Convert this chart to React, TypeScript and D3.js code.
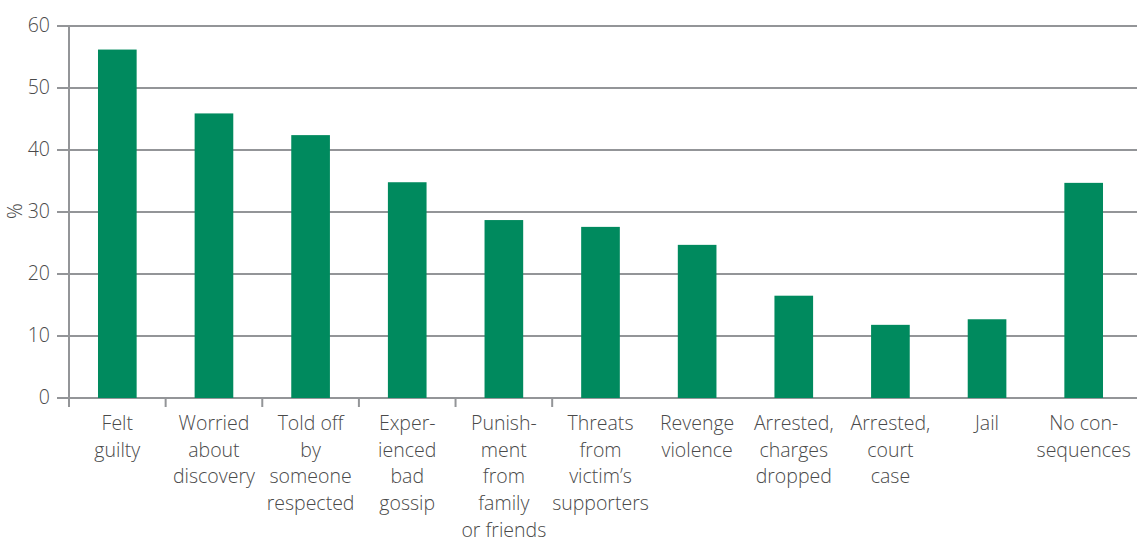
import React from "react";
import * as d3 from "d3";

const categories: string[][] = [
  ["Felt", "guilty"],
  ["Worried", "about", "discovery"],
  ["Told off", "by", "someone", "respected"],
  ["Exper-", "ienced", "bad", "gossip"],
  ["Punish-", "ment", "from", "family", "or friends"],
  ["Threats", "from", "victim’s", "supporters"],
  ["Revenge", "violence"],
  ["Arrested,", "charges", "dropped"],
  ["Arrested,", "court", "case"],
  ["Jail"],
  ["No con-", "sequences"],
];
const values: number[] = [56.2, 45.9, 42.4, 34.8, 28.7, 27.6, 24.7, 16.5, 11.8, 12.7, 34.7];
const yTicks: number[] = [0, 10, 20, 30, 40, 50, 60];
const yLabel = "%";

const W = 1142;
const H = 538;
const left = 69;
const right = 1132;
const top = 26;
const bottom = 398;
const gridRight = 1137;
const barColor = "#008a5e";
const gridColor = "#939598";
const textColor = "#4a4a4a";
const font = "'Open Sans', 'Noto Sans', sans-serif";
const fs = 19.5;

export default function App() {
  const x = d3
    .scaleBand<number>()
    .domain(d3.range(categories.length))
    .range([left, right])
    .paddingInner(0.6)
    .paddingOuter(0.3);
  const xStep = d3.scaleBand<number>().domain(d3.range(categories.length)).range([left, right]);
  const y = d3.scaleLinear().domain([0, 60]).range([bottom, top]);
  const tickBoundaries = d3.range(1, 6).map((i) => xStep(i)!);

  return (
    <div style={{ position: "absolute", left: 0, top: 0 }}>
      <svg width={W} height={H} style={{ display: "block" }}>
        <rect width={W} height={H} fill="#fff" />
        {yTicks.map((t) => (
          <g key={t}>
            <line x1={57} x2={gridRight} y1={y(t)} y2={y(t)} stroke={gridColor} strokeWidth={2} />
            <text
              x={50}
              y={y(t) - 1}
              dy="0.35em"
              textAnchor="end"
              fontFamily={font}
              fontSize={fs}
              fontWeight={300}
              fill={textColor}
            >
              {t}
            </text>
          </g>
        ))}
        <line x1={left} x2={left} y1={top} y2={bottom + 9} stroke={gridColor} strokeWidth={2} />
        {tickBoundaries.map((bx, i) => (
          <line key={i} x1={bx} x2={bx} y1={bottom} y2={bottom + 9} stroke={gridColor} strokeWidth={2} />
        ))}
        {values.map((v, i) => (
          <rect
            key={i}
            x={x(i)!}
            y={y(v)}
            width={x.bandwidth()}
            height={y(0) - y(v)}
            fill={barColor}
          />
        ))}
        {categories.map((lines, i) => (
          <text
            key={i}
            x={x(i)! + x.bandwidth() / 2}
            y={430}
            textAnchor="middle"
            fontFamily={font}
            fontSize={fs}
            fontWeight={300}
            fill={textColor}
          >
            {lines.map((l, j) => (
              <tspan key={j} x={x(i)! + x.bandwidth() / 2} y={430 + j * 26.7}>
                {l}
              </tspan>
            ))}
          </text>
        ))}
        <text
          transform={`translate(${22},${211}) rotate(-90)`}
          textAnchor="middle"
          fontFamily={font}
          fontSize={fs}
          fontWeight={300}
          fill={textColor}
        >
          {yLabel}
        </text>
      </svg>
    </div>
  );
}
